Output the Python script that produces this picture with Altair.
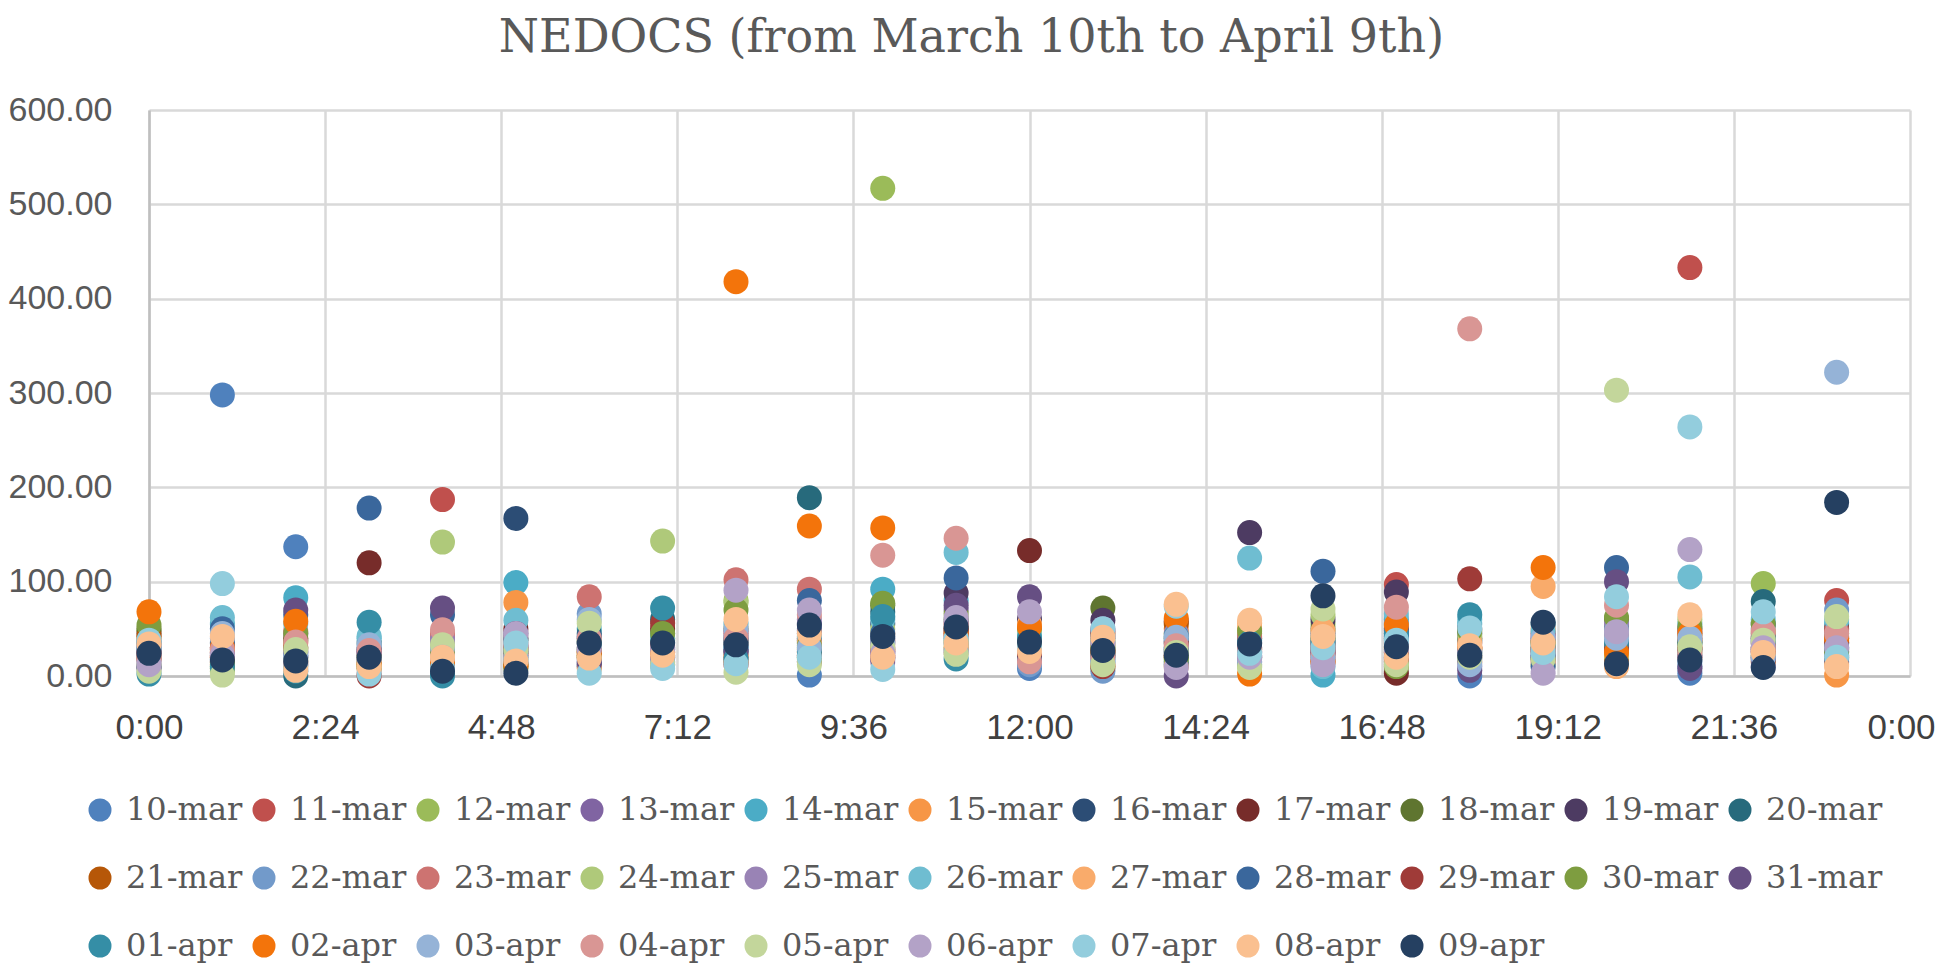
import altair as alt
import pandas as pd
import colorsys

hours = list(range(24))

series_names = ["10-mar", "11-mar", "12-mar", "13-mar", "14-mar", "15-mar", "16-mar",
                "17-mar", "18-mar", "19-mar", "20-mar", "21-mar", "22-mar", "23-mar",
                "24-mar", "25-mar", "26-mar", "27-mar", "28-mar", "29-mar", "30-mar",
                "31-mar", "01-apr", "02-apr", "03-apr", "04-apr", "05-apr", "06-apr",
                "07-apr", "08-apr", "09-apr"]

mar10 = [20, 298, 137, 30, 10, 20, 15, 20, 30, 1, 25, 40, 8, 15, 30, 20, 40, 20, 0, 20, 25, 3, 30, 30]
mar11 = [30, 25, 40, 18, 187, 28, 30, 30, 45, 40, 38, 55, 20, 22, 20, 30, 25, 97, 40, 30, 40, 433, 40, 80]
mar12 = [48, 10, 30, 12, 15, 40, 25, 40, 80, 30, 517, 30, 35, 8, 45, 45, 55, 30, 25, 12, 55, 25, 98, 45]
mar13 = [22, 30, 45, 25, 40, 33, 40, 25, 40, 55, 30, 70, 45, 40, 25, 15, 30, 45, 35, 40, 30, 40, 25, 25]
mar14 = [35, 55, 83, 40, 25, 99, 50, 45, 55, 35, 92, 80, 30, 30, 35, 38, 1, 60, 55, 25, 45, 55, 50, 55]
mar15 = [40, 20, 35, 22, 30, 78, 20, 15, 35, 25, 45, 25, 40, 12, 50, 50, 20, 35, 30, 50, 20, 30, 35, 1]
mar16 = [28, 35, 25, 15, 20, 167, 10, 35, 25, 45, 55, 50, 28, 35, 12, 25, 45, 50, 45, 35, 50, 45, 55, 35]
mar17 = [45, 15, 20, 120, 12, 50, 35, 50, 20, 15, 20, 45, 133, 25, 58, 35, 35, 3, 20, 45, 35, 20, 20, 50]
mar18 = [50, 8, 38, 10, 22, 12, 28, 38, 50, 20, 75, 60, 50, 72, 40, 12, 50, 15, 28, 18, 60, 35, 45, 20]
mar19 = [18, 28, 12, 28, 35, 24, 12, 28, 28, 38, 35, 88, 60, 59, 28, 152, 60, 89, 50, 28, 40, 50, 28, 40]
mar20 = [10, 18, 0, 35, 3, 38, 45, 60, 38, 189, 68, 35, 38, 20, 15, 40, 28, 40, 38, 55, 38, 28, 79, 15]
mar21 = [42, 12, 15, 8, 18, 10, 22, 12, 15, 28, 28, 50, 25, 45, 55, 28, 15, 25, 15, 38, 15, 38, 15, 28]
mar22 = [26, 40, 22, 20, 28, 30, 66, 22, 42, 50, 40, 28, 12, 5, 38, 18, 38, 55, 18, 22, 28, 15, 38, 70]
mar23 = [32, 22, 48, 2, 45, 22, 84, 33, 102, 92, 22, 42, 18, 28, 22, 42, 22, 28, 30, 15, 42, 48, 42, 48]
mar24 = [12, 5, 18, 16, 142, 18, 38, 143, 78, 18, 50, 38, 45, 38, 18, 10, 65, 12, 42, 30, 22, 60, 22, 38]
mar25 = [15, 30, 26, 24, 38, 40, 18, 18, 48, 60, 15, 58, 32, 50, 45, 22, 18, 38, 10, 42, 55, 22, 10, 22]
mar26 = [30, 62, 55, 42, 14, 59, 30, 40, 30, 42, 60, 131, 42, 18, 30, 125, 10, 66, 60, 48, 48, 105, 60, 60]
mar27 = [20, 26, 10, 14, 26, 25, 8, 26, 22, 35, 33, 30, 55, 33, 10, 56, 48, 30, 35, 95, 10, 42, 48, 12]
mar28 = [36, 50, 65, 178, 65, 15, 42, 30, 35, 80, 45, 104, 20, 42, 26, 30, 111, 42, 25, 10, 115, 10, 35, 42]
mar29 = [25, 20, 30, 0, 10, 30, 26, 56, 12, 22, 26, 48, 24, 10, 35, 20, 30, 18, 103, 26, 30, 30, 26, 35]
mar30 = [54, 14, 45, 20, 24, 8, 20, 45, 70, 32, 77, 66, 30, 30, 20, 48, 40, 10, 48, 35, 62, 52, 55, 26]
mar31 = [8, 24, 70, 26, 72, 45, 14, 20, 26, 48, 18, 75, 84, 48, 0, 26, 25, 48, 6, 20, 100, 8, 18, 18]
apr01 = [2, 10, 5, 57, 0, 26, 35, 72, 18, 26, 63, 18, 40, 24, 42, 35, 35, 45, 65, 30, 35, 35, 40, 30]
apr02 = [68, 30, 58, 12, 15, 12, 25, 25, 418, 159, 157, 45, 52, 26, 61, 2, 15, 54, 30, 115, 25, 45, 30, 40]
apr03 = [30, 45, 20, 33, 30, 20, 60, 15, 50, 30, 35, 25, 28, 15, 41, 15, 20, 35, 12, 40, 40, 40, 20, 322]
apr04 = [18, 28, 36, 27, 49, 34, 40, 32, 40, 65, 128, 146, 15, 20, 32, 28, 28, 73, 368, 28, 75, 26, 47, 45]
apr05 = [5, 1, 28, 9, 33, 28, 56, 12, 4, 12, 30, 23, 35, 12, 25, 9, 71, 12, 20, 18, 303, 31, 38, 63]
apr06 = [12, 22, 14, 18, 20, 45, 28, 28, 91, 70, 24, 62, 68, 35, 9, 20, 12, 28, 26, 3, 47, 134, 30, 30]
apr07 = [38, 98, 8, 2, 8, 35, 3, 8, 13, 20, 7, 40, 30, 50, 74, 24, 30, 38, 51, 25, 84, 264, 68, 20]
apr08 = [34, 42, 6, 10, 20, 16, 19, 22, 60, 45, 20, 35, 26, 41, 76, 59, 42, 20, 32, 35, 12, 65, 25, 10]
apr09 = [24, 17, 16, 20, 5, 3, 35, 35, 33, 54, 42, 52, 36, 27, 22, 34, 85, 31, 22, 57, 13, 17, 9, 184]

all_values = [mar10, mar11, mar12, mar13, mar14, mar15, mar16, mar17, mar18, mar19, mar20,
              mar21, mar22, mar23, mar24, mar25, mar26, mar27, mar28, mar29, mar30, mar31,
              apr01, apr02, apr03, apr04, apr05, apr06, apr07, apr08, apr09]

x_ticks = [0, 0.1, 0.2, 0.3, 0.4, 0.5, 0.6, 0.7, 0.8, 0.9, 1.0]
y_ticks = [0, 100, 200, 300, 400, 500, 600]

# Office theme accent colours and their Excel series shades
accents = ["#4F81BD", "#C0504D", "#9BBB59", "#8064A2", "#4BACC6", "#F79646"]
lum_mods = [(1.0, 0.0), (0.6, 0.0), (0.8, 0.2), (0.8, 0.0), (0.6, 0.4), (0.5, 0.0)]


def shade(hexc, mod, off):
    r, g, b = (int(hexc[i:i + 2], 16) / 255 for i in (1, 3, 5))
    h, l, s = colorsys.rgb_to_hls(r, g, b)
    l = min(1.0, l * mod + off)
    r, g, b = colorsys.hls_to_rgb(h, l, s)
    return "#%02X%02X%02X" % (round(r * 255), round(g * 255), round(b * 255))


colors = [shade(accents[i % 6], *lum_mods[i // 6]) for i in range(len(series_names))]

rows = []
for k, (name, vals) in enumerate(zip(series_names, all_values)):
    for h, v in zip(hours, vals):
        rows.append({"series": name, "order": k, "hour": h, "nedocs": v})
df = pd.DataFrame(rows)

time_label = ("floor((round(datum.value*1440)%1440)/60) + ':' + "
              "((round(datum.value*1440)%60) < 10 ? '0' : '') + (round(datum.value*1440)%60)")

chart = alt.Chart(df).transform_calculate(
    dayfrac="datum.hour / 24"
).mark_circle(size=625, opacity=1).encode(
    x=alt.X("dayfrac:Q",
            scale=alt.Scale(domain=[0, 1], nice=False, zero=False),
            axis=alt.Axis(values=x_ticks, labelExpr=time_label, title=None,
                          labelFont="Liberation Sans", labelFontSize=35,
                          labelColor="#404040", labelPadding=34, ticks=False,
                          tickSize=0, labelFlush=False,
                          labelOffset={"condition": {"test": "datum.value >= 1", "value": -9},
                                       "value": 0},
                          labelOverlap=False,
                          grid=True, gridColor="#D9D9D9", gridWidth=2.5,
                          domainColor="#BFBFBF", domainWidth=2.5)),
    y=alt.Y("nedocs:Q",
            scale=alt.Scale(domain=[0, 600], nice=False),
            axis=alt.Axis(values=y_ticks, format=".2f", title=None,
                          labelFont="Liberation Sans", labelFontSize=34,
                          labelColor="#595959", labelPadding=37, ticks=False,
                          tickSize=0, labelFlush=False, labelOverlap=False,
                          grid=True, gridColor="#D9D9D9", gridWidth=2.5,
                          domainColor="#BFBFBF", domainWidth=2.5)),
    color=alt.Color("series:N",
                    scale=alt.Scale(domain=series_names, range=colors),
                    legend=alt.Legend(title=None, orient="none", legendX=-65, legendY=684,
                                      direction="horizontal", columns=11, gridAlign="all",
                                      symbolType="circle", symbolSize=529, symbolLimit=40,
                                      symbolStrokeWidth=0, symbolOpacity=1,
                                      labelFont="DejaVu Serif", labelFontSize=32,
                                      labelColor="#595959", labelOffset=10,
                                      columnPadding=5, rowPadding=36, padding=0,
                                      labelLimit=300)),
    order=alt.Order("order:Q")
).properties(
    width=1761,
    height=566,
    autosize=alt.AutoSizeParams(type="none"),
    padding={"left": 141, "top": 102, "right": 27, "bottom": 290},
    title=alt.TitleParams(text="NEDOCS (from March 10th to April 9th)",
                          font="DejaVu Serif", fontSize=46, fontWeight="normal",
                          color="#595959", anchor="middle", dx=-58, offset=31)
).configure_view(strokeWidth=0)

chart.save("out.html", embed_options={"renderer": "svg", "actions": False})
